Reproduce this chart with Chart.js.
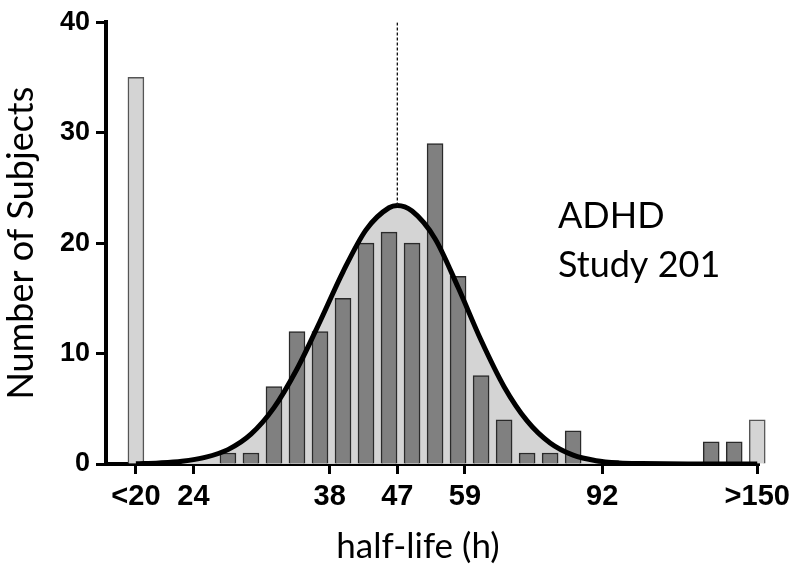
<!DOCTYPE html>
<html>
<head>
<meta charset="utf-8">
<script src="https://cdn.jsdelivr.net/npm/chart.js@4/dist/chart.umd.min.js"></script>
<style>
  html, body { margin: 0; padding: 0; background: #ffffff; }
  #wrap { width: 796px; height: 568px; }
</style>
</head>
<body>
<div id="wrap"><canvas id="c" width="796" height="568"></canvas></div>
<script>
// ---- data (x positions are bin indices along the half-life axis) ----
const binIndex   = [0, 1, 2, 3, 4, 5, 6, 7, 8, 9, 10, 11, 12, 13, 14, 15, 16, 17, 18, 19, 20, 21, 22];
const binCounts  = [1, 1, 7, 12, 12, 15, 20, 21, 20, 29, 17, 8, 4, 1, 1, 3, 0, 0, 0, 0, 0, 2, 2];
const outlierIndex  = [-4, 23];
const outlierCounts = [35, 4];
const fitX = [-4, -3, -2, -1, 0, 1, 2, 3, 4, 5, 6, 7, 7.36, 8, 9, 10, 11, 12, 13, 14, 15, 16, 17, 18, 20, 23];
const fitY = [0.03, 0.1, 0.25, 0.6, 1.3, 2.7, 5.1, 8.6, 12.9, 17.4, 21.2, 23.2, 23.4, 22.9, 20.4, 16.0, 11.2, 7.0, 3.9, 1.9, 0.8, 0.3, 0.1, 0.04, 0, 0];
const meanIndex = 7.36;
const meanPeak  = 23.4;
const xTickPos    = [-4, -1.5, 4.42, 7.36, 10.3, 16.26, 23];
const xTickLabels = ['<20', '24', '38', '47', '59', '92', '>150'];
const yTicks = [0, 10, 20, 30, 40];
const xTitle = 'half-life (h)';
const yTitle = 'Number of Subjects';
const noteLines = ['ADHD', 'Study 201'];

const toXY = (xs, ys) => xs.map((x, i) => ({ x: x, y: ys[i] }));

const yTickFont = { family: '"Liberation Sans", Arial, sans-serif', size: 27, weight: 'bold' };
const xTickFont = { family: '"Liberation Sans Narrow", "Arial Narrow", "Liberation Sans", sans-serif', size: 29, weight: 'bold' };
const titleFont = { family: 'Lato, "Open Sans", sans-serif', size: 36, weight: 'normal' };

const textPlugin = {
  id: 'texts',
  afterDraw(chart) {
    const ctx = chart.ctx;
    ctx.save();
    ctx.fillStyle = '#000';
    ctx.font = '36px Lato, "Open Sans", sans-serif';
    ctx.textAlign = 'left';
    ctx.textBaseline = 'alphabetic';
    ctx.fillText(noteLines[0], 558, 228);
    ctx.fillText(noteLines[1], 558, 277);
    ctx.font = '35px Lato, "Open Sans", sans-serif';
    ctx.textAlign = 'center';
    ctx.fillText(xTitle, 418, 558);
    ctx.restore();
  }
};

new Chart(document.getElementById('c'), {
  type: 'bar',
  data: {
    datasets: [
      {
        type: 'line', label: 'fit-area', data: toXY(fitX, fitY), order: 4,
        fill: 'origin', backgroundColor: '#d4d4d4', borderWidth: 0, pointRadius: 0,
        cubicInterpolationMode: 'monotone'
      },
      {
        type: 'bar', label: 'counts', data: toXY(binIndex, binCounts), order: 3,
        backgroundColor: '#808080', borderColor: '#2a2a2a', borderWidth: 1.5,
        barThickness: 16, grouped: false, borderSkipped: 'bottom'
      },
      {
        type: 'bar', label: 'outliers', data: toXY(outlierIndex, outlierCounts), order: 3,
        backgroundColor: '#d4d4d4', borderColor: '#555555', borderWidth: 1.5,
        barThickness: 16, grouped: false, clip: false, borderSkipped: 'bottom'
      },
      {
        type: 'line', label: 'fit', data: toXY(fitX, fitY), order: 1,
        fill: false, borderColor: '#000', borderWidth: 5, pointRadius: 0,
        cubicInterpolationMode: 'monotone'
      },
      {
        type: 'line', label: 'mean', data: [{ x: meanIndex, y: meanPeak }, { x: meanIndex, y: yTicks[yTicks.length - 1] }],
        order: 0, fill: false, borderColor: '#111', borderWidth: 1.3, borderDash: [3, 2], pointRadius: 0
      }
    ]
  },
  options: {
    responsive: false,
    animation: false,
    devicePixelRatio: 1,
    layout: { padding: { left: 0, right: 33, top: 15, bottom: 0 } },
    plugins: { legend: { display: false }, tooltip: { enabled: false } },
    scales: {
      x: {
        type: 'linear', offset: false, min: -5.3, max: 23.1,
        afterBuildTicks: (s) => { s.ticks = xTickPos.map(v => ({ value: v })); },
        afterFit: (s) => { s.height = 104; },
        ticks: {
          autoSkip: false, maxRotation: 0, minRotation: 0, padding: 6, color: '#000', font: xTickFont,
          callback: (v, i) => xTickLabels[i]
        },
        grid: { display: true, drawOnChartArea: false, drawTicks: true, tickLength: 10, tickWidth: 3, tickColor: '#000', offset: false },
        border: { display: true, color: '#000', width: 4 },
        title: { display: false, text: xTitle }
      },
      y: {
        type: 'linear', min: 0, max: 40,
        afterBuildTicks: (s) => { s.ticks = yTicks.map(v => ({ value: v })); },
        afterFit: (s) => { s.width = 106; },
        ticks: { padding: 6, color: '#000', font: yTickFont },
        grid: { display: true, drawOnChartArea: false, drawTicks: true, tickLength: 10, tickWidth: 3, tickColor: '#000' },
        border: { display: true, color: '#000', width: 4 },
        title: { display: true, text: yTitle, color: '#000', font: titleFont, padding: { top: 0, bottom: 0 } }
      }
    }
  },
  plugins: [textPlugin]
});
</script>
</body>
</html>
